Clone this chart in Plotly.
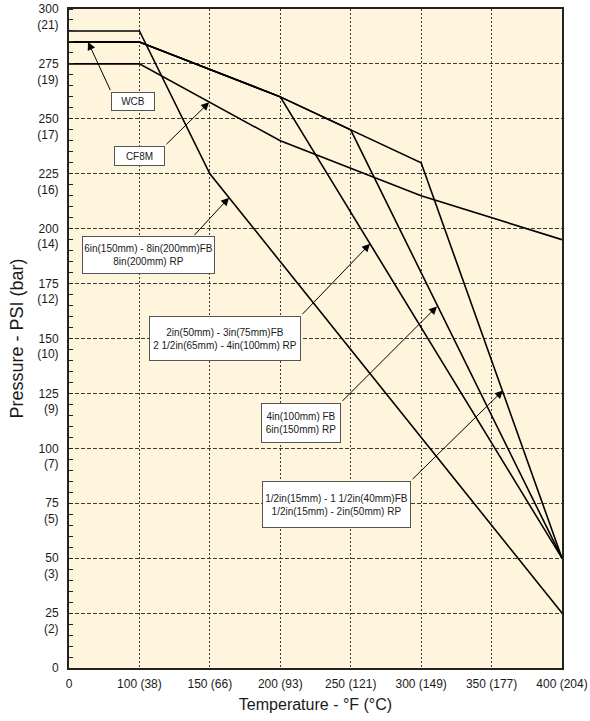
import plotly.graph_objects as go

# ---------------- data ----------------
temps_f = [0, 100, 150, 200, 250, 300, 350, 400]
temps_c = [None, 38, 66, 93, 121, 149, 177, 204]
x_labels = [str(f) if c is None else f"{f} ({c})" for f, c in zip(temps_f, temps_c)]
label_of = dict(zip(temps_f, x_labels))

psi_ticks = [0, 25, 50, 75, 100, 125, 150, 175, 200, 225, 250, 275, 300]
bar_ticks = [None, 2, 3, 5, 7, 9, 10, 12, 14, 16, 17, 19, 21]
y_labels = [f" <br>{p}<br>({b})" if b is not None else f"{p}" for p, b in zip(psi_ticks, bar_ticks)]

# 6in(150mm) - 8in(200mm) FB / 8in(200mm) RP
big_t = [0, 100, 150, 400]
big_p = [290, 290, 225, 25]
# 2in(50mm) - 3in(75mm) FB / 2 1/2in(65mm) - 4in(100mm) RP
mid_t = [0, 100, 200, 400]
mid_p = [285, 285, 260, 50]
# 4in(100mm) FB / 6in(150mm) RP
four_t = [0, 100, 200, 250, 400]
four_p = [285, 285, 260, 245, 50]
# 1/2in(15mm) - 1 1/2in(40mm) FB / 1/2in(15mm) - 2in(50mm) RP (WCB envelope)
small_t = [0, 100, 200, 250, 300, 400]
small_p = [285, 285, 260, 245, 230, 50]
# CF8M
cf8m_t = [0, 100, 200, 300, 400]
cf8m_p = [275, 275, 240, 215, 195]

series = [(big_t, big_p), (mid_t, mid_p), (four_t, four_p), (small_t, small_p), (cf8m_t, cf8m_p)]

FONT = "Liberation Sans, Arial, sans-serif"
GRID = "#3a3a3a"
TXT = "#1a1a1a"

fig = go.Figure()
for t, p in series:
    fig.add_trace(go.Scatter(
        x=[label_of[v] for v in t], y=p, mode="lines",
        line=dict(color="black", width=1.6), showlegend=False, hoverinfo="skip"))

# ---------------- annotations (boxes + arrows) ----------------
boxes = [
    # text, center(x,y), size(w,h), tail(x,y), head(x,y)
    ("WCB", (0.909, 258.1), (44, 19), (0.596, 262.4), (0.27, 285)),
    ("CF8M", (1.001, 233.3), (51, 20), (1.363, 237.8), (1.99, 257.5)),
    ("6in(150mm) - 8in(200mm)FB<br>8in(200mm) RP", (1.129, 187.8), (133, 38), (1.761, 196.4), (2.272, 214.1)),
    ("2in(50mm) - 3in(75mm)FB<br>2 1/2in(65mm) - 4in(100mm) RP", (2.215, 150.2), (152, 45), (3.294, 160.4), (4.274, 193.1)),
    ("4in(100mm) FB<br>6in(150mm) RP", (3.294, 111.7), (80, 40), (3.862, 120.9), (5.225, 164.6)),
    ("1/2in(15mm) - 1 1/2in(40mm)FB<br>1/2in(15mm) - 2in(50mm) RP", (3.798, 74.6), (149, 47), (4.856, 85.3), (6.162, 126.3)),
]
annotations = []
for text, (cx, cy), (w, h), (tx, ty), (hx, hy) in boxes:
    annotations.append(dict(
        x=hx, y=hy, xref="x", yref="y", ax=tx, ay=ty, axref="x", ayref="y",
        text="", showarrow=True, arrowhead=2, arrowsize=1.6, arrowwidth=1, arrowcolor="black",
        standoff=0, startstandoff=0))
    annotations.append(dict(
        x=cx, y=cy, xref="x", yref="y", text=text, showarrow=False,
        font=dict(family=FONT, size=10, color=TXT),
        bgcolor="white", bordercolor="#555", borderwidth=1, borderpad=0,
        width=w - 2, height=h - 2, align="center", valign="middle"))

fig.update_layout(
    width=590, height=721,
    margin=dict(l=69, r=28, t=9, b=53, autoexpand=False),
    paper_bgcolor="white", plot_bgcolor="#FFF5DD",
    font=dict(family=FONT, size=12, color=TXT),
    annotations=annotations,
    xaxis=dict(
        type="category", categoryorder="array", categoryarray=x_labels,
        range=[0, 7], autorange=False, automargin=False,
        showgrid=True, gridcolor=GRID, gridwidth=1, griddash="2px,2px",
        showline=True, linecolor="#222", linewidth=2, mirror=True,
        ticks="", ticklabelstandoff=4, ticklabeloverflow="allow",
        tickfont=dict(family=FONT, size=12, color=TXT),
        title=dict(text="Temperature - °F (°C)", font=dict(family=FONT, size=16, color=TXT), standoff=8),
        zeroline=False,
    ),
    xaxis2=dict(
        overlaying="x", side="bottom", anchor="y", range=[0, 7], autorange=False, automargin=False,
        tick0=0.5, dtick=1, ticks="inside", ticklen=4, tickcolor="#222", tickwidth=1,
        showticklabels=False, showgrid=False, zeroline=False, showline=False,
    ),
    yaxis=dict(
        range=[0, 300], autorange=False, automargin=False,
        tickvals=psi_ticks, ticktext=y_labels,
        showgrid=True, gridcolor=GRID, gridwidth=1, griddash="4px,2px",
        showline=True, linecolor="#222", linewidth=2, mirror=True,
        ticks="", ticklabelstandoff=6, ticklabeloverflow="allow",
        minor=dict(dtick=5, ticks="inside", ticklen=4, tickcolor="#222", tickwidth=1, showgrid=False),
        tickfont=dict(family=FONT, size=12, color=TXT),
        title=dict(text="Pressure - PSI (bar)", font=dict(family=FONT, size=18, color=TXT), standoff=9),
        zeroline=False,
    ),
)

# remove the page's default body margin so the figure fills the 590x721 window
fig.write_html(
    "out.html",
    config={"displayModeBar": False},
    post_script="document.body.style.margin='0';document.body.style.overflow='hidden';",
)
